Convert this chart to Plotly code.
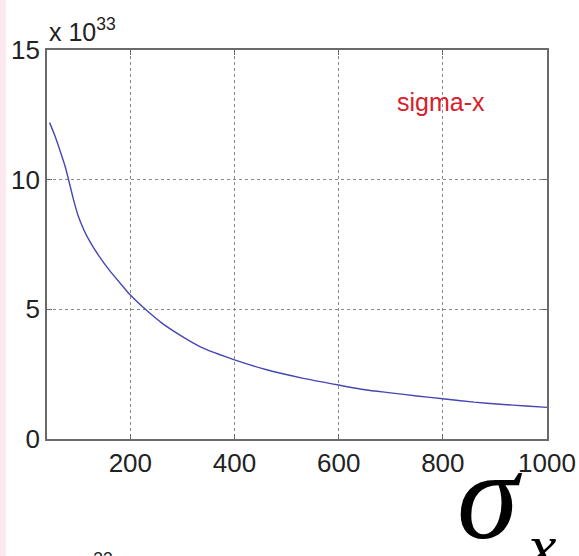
import plotly.graph_objects as go

# Beam size sweep (sigma-x) and resulting value, in units of 1e33
sigma_x = [45, 55, 67, 75, 82, 90, 100, 110, 120, 140, 160, 185, 200, 230, 260,
           300, 340, 400, 460, 530, 600, 650, 700, 750, 800, 860, 910, 960, 1000]
value_e33 = [12.2, 11.7, 11.0, 10.5, 9.95, 9.3, 8.6, 8.1, 7.7, 7.05, 6.5, 5.9, 5.55,
             4.98, 4.48, 3.95, 3.5, 3.05, 2.68, 2.35, 2.08, 1.9, 1.78, 1.66, 1.55,
             1.42, 1.34, 1.27, 1.22]

x_ticks = [200, 400, 600, 800, 1000]
y_ticks = [0, 5, 10, 15]

W, H = 579, 556
L, R, T, B = 47, 32, 50, 117
pw, ph = W - L - R, H - T - B


def px_x(p):
    return (p - L) / pw


def px_y(p):
    return (H - B - p) / ph


fig = go.Figure()
fig.add_trace(go.Scatter(
    x=sigma_x, y=value_e33, mode="lines",
    line=dict(color="#4646b4", width=1.4, shape="spline", smoothing=0.6),
    showlegend=False, hoverinfo="skip",
))

axis_common = dict(
    showline=True, linecolor="#6a6a6a", linewidth=1.6, mirror="ticks",
    ticks="inside", ticklen=5, tickcolor="#6a6a6a",
    showgrid=True, gridcolor="#8a8a8a", gridwidth=1, griddash="dot",
    zeroline=False, automargin=False,
    tickfont=dict(family="Liberation Sans, Arial, sans-serif", size=26, color="#222"),
)

fig.update_xaxes(range=[40, 1000], tickvals=x_ticks,
                 ticktext=[str(v) for v in x_ticks], **axis_common)
fig.update_yaxes(range=[0, 15], tickvals=y_ticks,
                 ticktext=[str(v) for v in y_ticks], **axis_common)

label_font = dict(family="Liberation Sans, Arial, sans-serif", size=25, color="#222")

annotations = [
    # exponent label above the y axis
    dict(x=px_x(47), y=px_y(30), xref="paper", yref="paper", xanchor="left", yanchor="middle",
         text="x 10<sup>33</sup>", showarrow=False, font=label_font),
    # series label
    dict(x=px_x(441), y=px_y(102), xref="paper", yref="paper",
         xanchor="center", yanchor="middle", text="sigma-x", showarrow=False,
         font=dict(family="Liberation Sans, Arial, sans-serif", size=25, color="#d8202c")),
    # large axis symbol
    dict(x=px_x(490), y=px_y(497), xref="paper", yref="paper",
         xanchor="center", yanchor="middle", text="<i>σ</i>", showarrow=False,
         font=dict(family="Liberation Serif, Times New Roman, serif", size=124, color="#000")),
    dict(x=px_x(541), y=px_y(546), xref="paper", yref="paper",
         xanchor="center", yanchor="middle", text="<i>x</i>", showarrow=False,
         font=dict(family="Liberation Serif, Times New Roman, serif", size=64, color="#000")),
    # exponent label of the panel below, cut by the page edge
    dict(x=px_x(44), y=px_y(547), xref="paper", yref="paper", xanchor="left", yanchor="top",
         text="x 10<sup>33</sup>", showarrow=False, font=label_font),
]

shapes = [
    dict(type="rect", xref="paper", yref="paper",
         x0=px_x(0), x1=px_x(6), y0=px_y(H), y1=px_y(0),
         fillcolor="#fbe9ef", line=dict(width=0), layer="below"),
]

fig.update_layout(
    width=W, height=H,
    margin=dict(l=L, r=R, t=T, b=B),
    paper_bgcolor="white", plot_bgcolor="white",
    annotations=annotations, shapes=shapes,
)

fig.write_html("out.html")
